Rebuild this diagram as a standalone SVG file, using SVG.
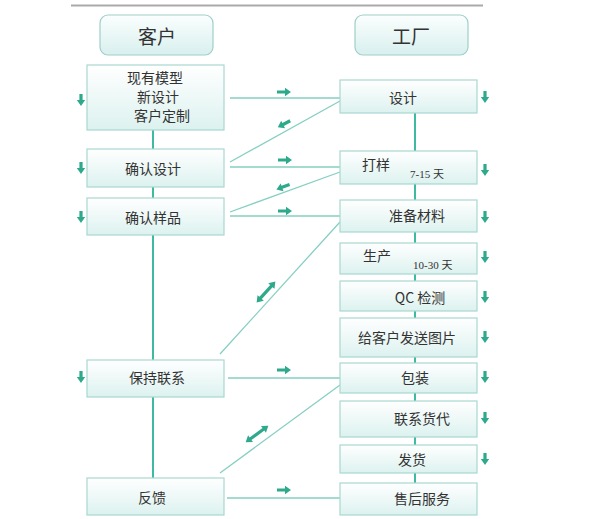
<svg xmlns="http://www.w3.org/2000/svg" width="600" height="519" viewBox="0 0 600 519">
<style>
.box{fill:url(#g);stroke:#a9d8d0;stroke-width:1.2}
.hdr{fill:url(#gh);stroke:#9fcfc8;stroke-width:1.2}
.t{font-family:"Noto Sans CJK SC","Noto Sans",sans-serif;font-size:14px;fill:#333;text-anchor:middle;dominant-baseline:central}
.h{font-size:19px}
.s{font-family:"Liberation Serif","Noto Sans CJK SC",serif;font-size:11px;fill:#333;dominant-baseline:central}
.ln{stroke:#86cfc2;stroke-width:1.3;fill:none}
.vl{stroke:#3dba9f;stroke-width:2;fill:none}
.ar{fill:#2ea98c}
</style>
<defs>
<linearGradient id="g" x1="0" y1="0" x2="0" y2="1"><stop offset="0" stop-color="#ffffff"/><stop offset="1" stop-color="#dcf2ef"/></linearGradient>
<linearGradient id="gh" x1="0" y1="0" x2="0" y2="1"><stop offset="0" stop-color="#fbfefe"/><stop offset="1" stop-color="#d8f0ee"/></linearGradient>
<path id="da" d="M-1.6,-6 h3.2 v6 h2.6 l-4.2,6 l-4.2,-6 h2.6 z"/>
<path id="ra" d="M-7,-1.6 h8 v-2.6 l6,4.2 l-6,4.2 v-2.6 h-8 z"/>
<path id="ba" d="M-8,-1.6 h16 v-2.6 l6,4.2 l-6,4.2 v-2.6 h-16 v2.6 l-6,-4.2 l6,-4.2 z"/>
</defs>
<line x1="71" y1="5.5" x2="483" y2="5.5" stroke="#aaaaaa" stroke-width="2"/>
<g id="connectors">
<line class="vl" x1="153" y1="130" x2="153" y2="478"/>
<line class="vl" x1="415" y1="113" x2="415" y2="483"/>
<line class="ln" x1="230" y1="98" x2="340" y2="98"/>
<line class="ln" x1="230" y1="162" x2="340" y2="101"/>
<line class="ln" x1="230" y1="167" x2="340" y2="167"/>
<line class="ln" x1="230" y1="212" x2="340" y2="172"/>
<line class="ln" x1="230" y1="216" x2="340" y2="216"/>
<line class="ln" x1="220" y1="354" x2="340" y2="222"/>
<line class="ln" x1="228" y1="378" x2="340" y2="378"/>
<line class="ln" x1="220" y1="473" x2="340" y2="385"/>
<line class="ln" x1="227" y1="498" x2="340" y2="498"/>
<use href="#ra" class="ar" x="284" y="92"/>
<use href="#ra" class="ar" transform="translate(284,124) rotate(152)"/>
<use href="#ra" class="ar" x="285" y="160"/>
<use href="#ra" class="ar" transform="translate(283,187) rotate(160)"/>
<use href="#ra" class="ar" x="285" y="211"/>
<use href="#ba" class="ar" transform="translate(266,292) rotate(-48)"/>
<use href="#ra" class="ar" x="284" y="370"/>
<use href="#ba" class="ar" transform="translate(257,434) rotate(-36)"/>
<use href="#ra" class="ar" x="284" y="490"/>
<use href="#da" class="ar" x="81" y="100"/>
<use href="#da" class="ar" x="81" y="168"/>
<use href="#da" class="ar" x="81" y="217"/>
<use href="#da" class="ar" x="81" y="377"/>
<use href="#da" class="ar" x="485" y="97"/>
<use href="#da" class="ar" x="485" y="170"/>
<use href="#da" class="ar" x="485" y="217"/>
<use href="#da" class="ar" x="485" y="257"/>
<use href="#da" class="ar" x="485" y="297"/>
<use href="#da" class="ar" x="485" y="337"/>
<use href="#da" class="ar" x="485" y="377"/>
<use href="#da" class="ar" x="485" y="418"/>
<use href="#da" class="ar" x="485" y="459"/>
</g>
<g id="h-kehu"><rect class="hdr" x="100" y="15" width="113" height="40" rx="8"/><text class="t h" x="157" y="35">客户</text></g>
<g id="h-gongchang"><rect class="hdr" x="355" y="15" width="113" height="40" rx="8"/><text class="t h" x="411" y="35">工厂</text></g>
<g id="n-model"><rect class="box" x="87" y="65" width="137" height="65"/><text class="t" x="155" y="77">现有模型</text><text class="t" x="158" y="96">新设计</text><text class="t" x="162" y="115">客户定制</text></g>
<g id="n-confirm-design"><rect class="box" x="87" y="149" width="137" height="38"/><text class="t" x="153" y="168">确认设计</text></g>
<g id="n-confirm-sample"><rect class="box" x="87" y="198" width="137" height="37"/><text class="t" x="153" y="217">确认样品</text></g>
<g id="n-contact"><rect class="box" x="87" y="360" width="137" height="37"/><text class="t" x="157" y="377">保持联系</text></g>
<g id="n-feedback"><rect class="box" x="87" y="478" width="137" height="37"/><text class="t" x="152" y="497">反馈</text></g>
<g id="n-design"><rect class="box" x="340" y="80" width="137" height="33"/><text class="t" x="403" y="97">设计</text></g>
<g id="n-sample"><rect class="box" x="340" y="151" width="137" height="33"/><text class="t" x="376" y="164">打样</text><text class="s" x="410" y="174">7-15 天</text></g>
<g id="n-material"><rect class="box" x="340" y="200" width="137" height="32"/><text class="t" x="417" y="215">准备材料</text></g>
<g id="n-produce"><rect class="box" x="340" y="243" width="137" height="31"/><text class="t" x="377" y="255">生产</text><text class="s" x="413" y="265">10-30 天</text></g>
<g id="n-qc"><rect class="box" x="340" y="281" width="137" height="30"/><text class="t" x="420" y="297">QC 检测</text></g>
<g id="n-photo"><rect class="box" x="340" y="318" width="137" height="39"/><text class="t" x="407" y="337">给客户发送图片</text></g>
<g id="n-pack"><rect class="box" x="340" y="363" width="137" height="30"/><text class="t" x="415" y="377">包装</text></g>
<g id="n-forwarder"><rect class="box" x="340" y="401" width="137" height="36"/><text class="t" x="422" y="418">联系货代</text></g>
<g id="n-ship"><rect class="box" x="340" y="445" width="137" height="28"/><text class="t" x="412" y="459">发货</text></g>
<g id="n-aftersale"><rect class="box" x="340" y="483" width="137" height="32"/><text class="t" x="422" y="498">售后服务</text></g>
</svg>
